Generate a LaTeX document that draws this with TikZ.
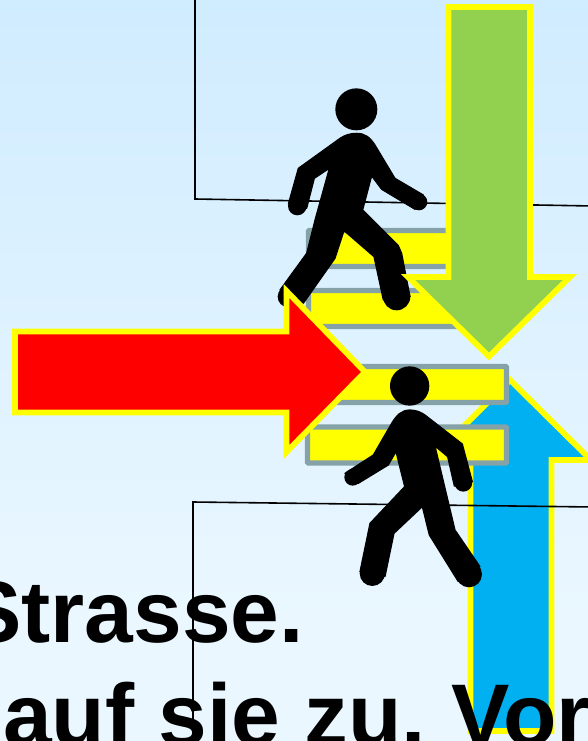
\documentclass[tikz,border=0pt]{standalone}
\usepackage{fontspec}
\setmainfont{Liberation Sans}
\definecolor{pureYellow}{RGB}{255,255,0}
\definecolor{barGrey}{RGB}{133,162,168}
\definecolor{bgTop}{RGB}{208,236,255}
\definecolor{bgBottom}{RGB}{234,247,255}
\definecolor{arrowGreen}{RGB}{146,208,80}
\definecolor{arrowBlue}{RGB}{0,176,240}
\definecolor{arrowRed}{RGB}{255,0,0}
\begin{document}
\begin{tikzpicture}[x=1pt,y=-1pt,
  arrowshape/.style={draw=pureYellow,line width=5.7pt,miter limit=10,line join=miter},
  barshape/.style={draw=barGrey,fill=pureYellow,line width=5.2pt,rounded corners=0.8pt},
  frameline/.style={draw=black,line width=1.6pt},
  walker/.style={fill=black,draw=black,line width=1.2pt,line join=round},
  caption/.style={anchor=base west,inner sep=0pt,font=\bfseries\fontsize{87.5}{100}\selectfont,text=black}]
\useasboundingbox (0,0) rectangle (588,741);
\clip (0,0) rectangle (588,741);
\fill[bgBottom] (0,0) rectangle (588,741);
\shade[top color=bgTop,bottom color=bgBottom] (0,0) rectangle (588,620);
% frame lines
\draw[frameline] (195,-5) -- (195,199) -- (593,206);
% bars
\draw[barshape] (308.5,230.5) rectangle (506.5,266.5);
\draw[barshape] (308.5,290.5) rectangle (506.5,326.5);
% upper walker
\begin{scope}[shift={(270,80)},x=0.3333pt,y=-0.3333pt]
\fill (259,88) circle[radius=63];
\path[walker] (260,160) .. controls (285,160) and (300,172) .. (315,195) -- (375,295) -- (460,345)
  -- (435,388) -- (335,328) -- (305,288) -- (278,390) -- (385,497) -- (395,520) -- (420,650)
  -- (340,660) -- (312,530) -- (222,452) -- (195,535) -- (100,670) -- (30,630)
  -- (110,520) -- (135,420) -- (178,265) -- (133,295) -- (110,385) -- (55,372) -- (85,265)
  -- (210,175) .. controls (225,165) and (240,160) .. (260,160) -- cycle;
\fill (380,650) circle[radius=41];
\fill (55,650) circle[radius=32];
\fill (82,378) circle[radius=28];
\fill (447,366) circle[radius=25];
\end{scope}
% blue arrow
\draw[arrowshape,fill=arrowBlue] (470.5,731) -- (470.5,460) -- (430,460) -- (510,380) -- (591,460) -- (551.5,460) -- (551.5,731) -- cycle;
% green arrow
\draw[arrowshape,fill=arrowGreen] (448.5,7) -- (530,7) -- (530,277) -- (570,277) -- (489,356.5) -- (408,277) -- (448.5,277) -- cycle;
% lower bars
\draw[barshape] (307.5,366.5) rectangle (506.5,402.5);
\draw[barshape] (307.5,427) rectangle (506.5,463);
% lower frame line
\draw[frameline] (193,741) -- (193,502) -- (593,507);
% red arrow
\draw[arrowshape,fill=arrowRed] (15,331.5) -- (286.5,331.5) -- (286.5,291) -- (365,372) -- (286.5,452) -- (286.5,412.5) -- (15,412.5) -- cycle;
% lower walker
\begin{scope}[shift={(270,340)},x=0.3333pt,y=-0.3333pt]
\fill (419,138) circle[radius=59];
\path[walker] (420,210) .. controls (440,210) and (455,218) .. (465,225) -- (577,312) -- (607,425)
  -- (553,438) -- (533,350) -- (495,318) -- (555,570) -- (630,680) -- (565,725) -- (478,585)
  -- (457,500) -- (372,580) -- (345,710) -- (270,695) -- (300,550) -- (404,440) -- (378,335)
  -- (355,375) -- (265,430) -- (225,400) -- (310,345) -- (365,250)
  .. controls (380,225) and (395,210) .. (420,210) -- cycle;
\fill (580,428) circle[radius=27];
\fill (597,703) circle[radius=39];
\fill (307,700) circle[radius=38];
\fill (248,412) circle[radius=25];
\end{scope}
% caption
\node[caption] (line1) at (-37,642) {Strasse.};
\node[caption] (line2) at (3,745) {auf sie zu.\kern-7pt{} Vor};
\end{tikzpicture}
\end{document}
